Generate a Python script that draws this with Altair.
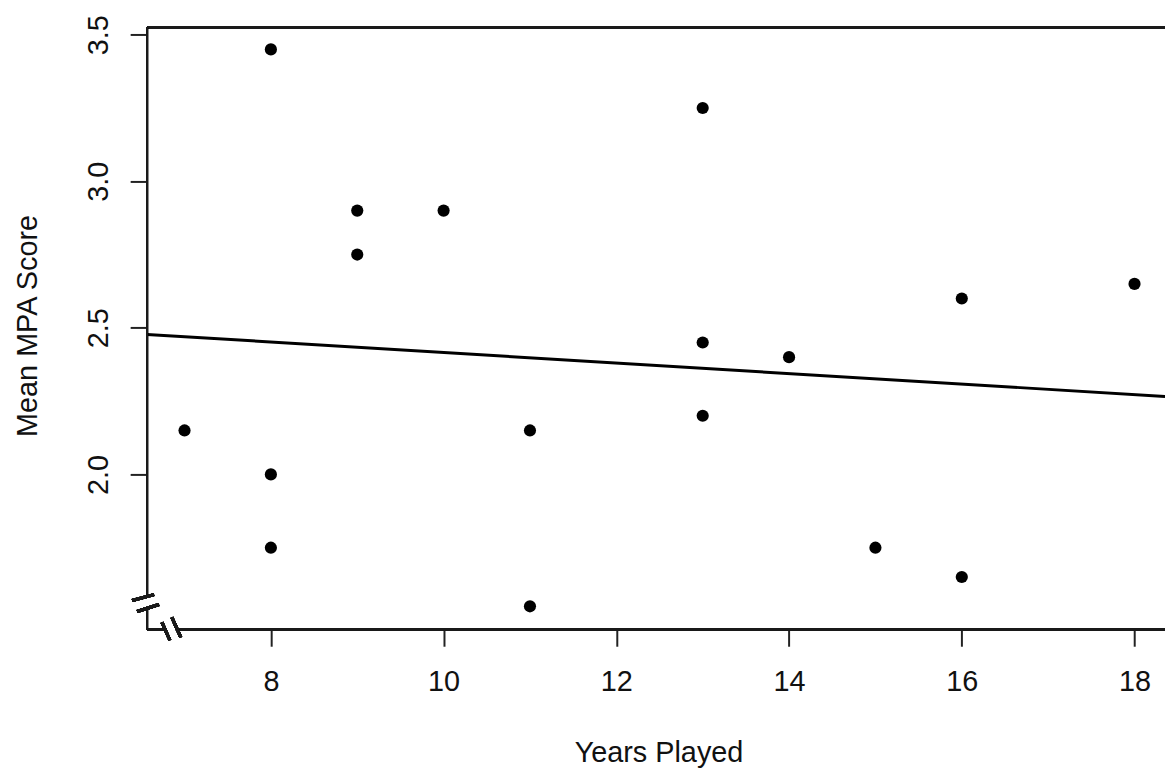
import altair as alt
import pandas as pd

years_played = [7, 8, 8, 8, 9, 9, 10, 11, 11, 13, 13, 13, 14, 15, 16, 16, 18]
mean_mpa = [2.15, 3.45, 2.00, 1.75, 2.90, 2.75, 2.90, 2.15, 1.55, 3.25, 2.45, 2.20,
            2.40, 1.75, 2.60, 1.65, 2.65]
x_ticks = [8, 10, 12, 14, 16, 18]
y_ticks = [2.0, 2.5, 3.0, 3.5]
x_domain = [6.566, 18.353]
y_domain = [1.4714, 3.5247]

df = pd.DataFrame({"years": years_played, "mpa": mean_mpa})

W, H = 1025, 606
FONT = "Liberation Sans"
FS = 29

xscale = alt.Scale(domain=x_domain, nice=False, zero=False)
yscale = alt.Scale(domain=y_domain, nice=False, zero=False)

xaxis = alt.Axis(values=x_ticks, format="d", title="Years Played", grid=False, domain=False,
                 tickSize=17, tickWidth=2, tickColor="#222", labelFontSize=FS,
                 labelFont=FONT, labelColor="#111", labelPadding=22, labelFlush=False,
                 labelOverlap=False, titleFont=FONT, titleFontSize=FS,
                 titleFontWeight="normal", titleColor="#111", titleX=515, titleY=133,
                 titleBaseline="alphabetic", titleAlign="center")
yaxis = alt.Axis(values=y_ticks, title="Mean MPA Score", grid=False, domain=False,
                 format=".1f", tickSize=17, tickWidth=2, tickColor="#222",
                 labelFontSize=FS, labelFont=FONT, labelColor="#111", labelAngle=270,
                 labelAlign="center", labelBaseline="alphabetic", labelPadding=23,
                 labelFlush=False, labelOverlap=False, titleFont=FONT, titleFontSize=FS,
                 titleFontWeight="normal", titleColor="#111", titleAngle=270,
                 titleX=-111, titleY=300, titleBaseline="alphabetic", titleAlign="center")

base = alt.Chart(df)

points = base.mark_circle(size=150, color="black", opacity=1).encode(
    x=alt.X("years:Q", scale=xscale, axis=xaxis),
    y=alt.Y("mpa:Q", scale=yscale, axis=yaxis),
)

fit = base.transform_regression("years", "mpa", extent=x_domain).mark_line(
    color="black", strokeWidth=3, clip=True
).encode(
    x=alt.X("years:Q", scale=xscale),
    y=alt.Y("mpa:Q", scale=yscale),
)

def rule(x1, y1, x2, y2, w=2):
    return alt.Chart(df).mark_rule(color="#1a1a1a", strokeWidth=w, clip=False).encode(
        x=alt.value(x1), y=alt.value(y1), x2=alt.value(x2), y2=alt.value(y2))

frame = [
    rule(0, 0, W, 0),          # top border
    rule(0, 0, 0, 574),        # left border above break
    rule(0, 584, 0, H),        # left border below break
    rule(0, H, 18, H),         # bottom border before break
    rule(29, H, W, H),         # bottom border after break
    rule(-15, 577, 7, 571, 3),  # y-axis break slashes
    rule(-10, 588, 12, 581, 3),
    rule(15, 599, 23, 617, 3),  # x-axis break slashes
    rule(25, 594, 34, 614, 3),
]

chart = alt.layer(fit, points, *frame).properties(
    width=W, height=H,
    autosize=alt.AutoSizeParams(type="none"),
    padding={"left": 140, "top": 17, "right": 0, "bottom": 140},
    background="white",
).configure_view(stroke=None)

chart.save("out.html", embed_options={"renderer": "svg", "actions": False})
